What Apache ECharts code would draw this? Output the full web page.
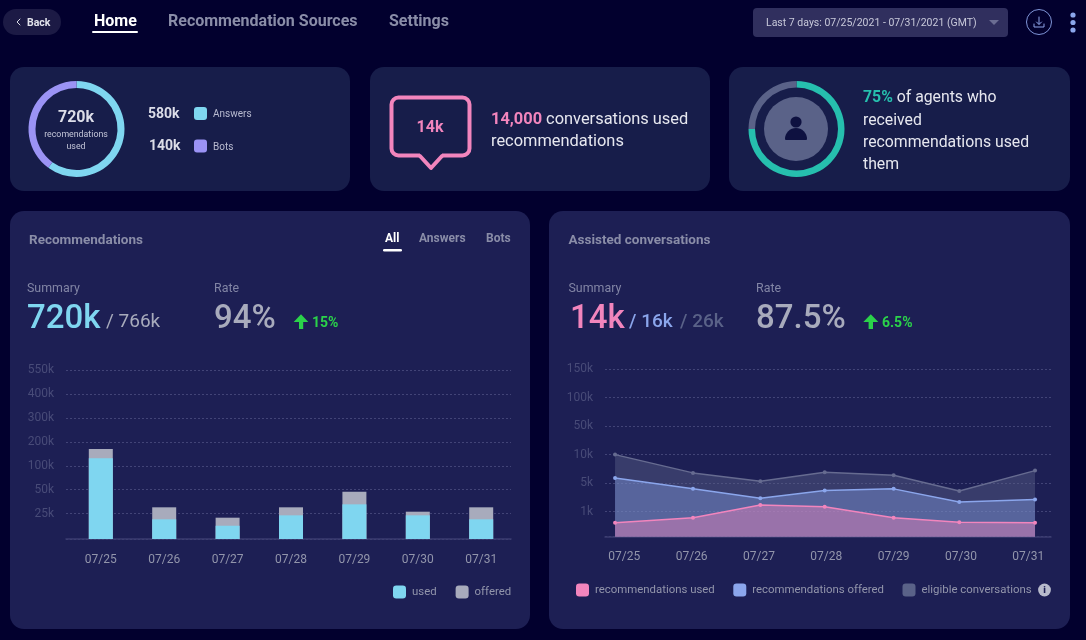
<!DOCTYPE html>
<html><head><meta charset="utf-8">
<style>html,body{margin:0;padding:0;background:#02002e}#c{width:1086px;height:640px}</style>
<script src="https://cdn.jsdelivr.net/npm/echarts@6/dist/echarts.min.js"></script>
</head><body><div id="c"></div>
<script>
// ---- data (values in thousands) ----
const barDays = ['07/25','07/26','07/27','07/28','07/29','07/30','07/31'];
const barUsed = [131, 19.3, 13, 23.2, 34.6, 23.2, 19.3];
const barOffered = [170, 31.5, 20.9, 31.5, 47.9, 26.9, 31.5];
const barTickValues = [0,25,50,100,200,300,400,550];
const barTickLabels = ['','25k','50k','100k','200k','300k','400k','550k'];

const areaDays = ['07/25','07/26','07/27','07/28','07/29','07/30','07/31'];
const areaSampleDay = [-0.138, 1.02, 2.02, 2.976, 4, 4.975, 6.1];
const recUsed = [0.56, 0.76, 1.94, 1.7, 0.76, 0.58, 0.56];
const recOffered = [5.9, 4.2, 2.9, 3.96, 4.2, 2.35, 2.7];
const eligible = [10, 6.8, 5.35, 6.9, 6.4, 3.9, 7.2];
const areaTickValues = [0,1,5,10,50,100,150];
const areaTickLabels = ['','1k','5k','10k','50k','100k','150k'];

const sourceShares = [{name:'Answers',value:60},{name:'Bots',value:40}];
const agentShares = [{name:'used',value:75},{name:'other',value:25}];

// ---- the two charts share a banded axis: first band has its own height ----
function bandPositions(n, firstGap){ const p=[0]; for(let i=1;i<n;i++) p.push(firstGap+i-1); return p; }
function banded(v, ticks, pos){
  for(let i=1;i<ticks.length;i++){
    if(v<=ticks[i]) return pos[i-1]+(v-ticks[i-1])/(ticks[i]-ticks[i-1])*(pos[i]-pos[i-1]);
  }
  return pos[pos.length-1];
}
const barPos = bandPositions(barTickValues.length, 1.068);
const areaPos = bandPositions(areaTickValues.length, 0.876);
const labelAt = (pos,labels)=>v=>{const i=pos.findIndex(p=>Math.abs(p-v)<1e-6);return i<0?'':labels[i];};

const FF='Roboto';
const C={bg:'#02002e',top:'#171d4a',big:'#1d1f54',sky:'#7fd6f0',vio:'#9b93f5',pink:'#f285bd',blue:'#8ba6ec',slate:'#5a6288',
  grey:'#a8abbc',teal:'#26bfae',green:'#2bd24a',nav:'#8a8da8',ink:'#e6e7ef'};

const T=(x,y,text,size,fill,o={})=>({type:'text',z:20,x,y:y+size*0.1,silent:true,style:Object.assign({text,fill,
  font:`${o.w||400} ${size}px ${FF}`,align:o.a||'left',verticalAlign:'middle'},o.rich?{rich:o.rich}:{})});
const R=(x,y,w,h,r,fill,o={})=>({type:'rect',z:o.z||5,silent:true,shape:{x,y,width:w,height:h,r},style:Object.assign({fill},o.style||{})});
const Cc=(cx,cy,r,style,z)=>({type:'circle',z:z||10,silent:true,shape:{cx,cy,r},style});
const Pl=(points,style)=>({type:'polyline',z:15,silent:true,shape:{points},style:Object.assign({fill:null,lineCap:'round',lineJoin:'round'},style)});
const Pg=(points,fill,z)=>({type:'polygon',z:z||15,silent:true,shape:{points},style:{fill}});

const elements=[
  // cards
  R(10,67,340,124,14,C.top,{z:-5}),R(370,67,340,124,14,C.top,{z:-5}),R(729,67,341,124,14,C.top,{z:-5}),
  R(10,211,520,418,14,C.big,{z:-5}),R(549,211,521,418,14,C.big,{z:-5}),
  // nav
  R(3,9,58,26,13,'#1c1a45'),
  Pl([[20,19],[17,22],[20,25]],{stroke:'#d8d9e4',lineWidth:1}),
  T(27,22,'Back',10.5,'#e2e3ec',{w:700}),
  T(94,20.5,'Home',16,'#ffffff',{w:700}),
  R(92,31,46,2,1,'#ffffff'),
  T(168,20.5,'Recommendation Sources',16,C.nav,{w:700}),
  T(389,20.5,'Settings',16,C.nav,{w:700}),
  R(753,8,255,29,4,'#302f5e'),
  T(766,22,'Last 7 days: 07/25/2021 - 07/31/2021 (GMT)',10.5,'#c8c9da'),
  Pg([[989,20],[999,20],[994,25]],'#6b6d92'),
  Cc(1039,22,12.5,{fill:null,stroke:'#7f95d8',lineWidth:1}),
  Pl([[1039,17],[1039,24]],{stroke:'#8ea4e8',lineWidth:1}),
  Pl([[1036.5,22],[1039,24.5],[1041.5,22]],{stroke:'#8ea4e8',lineWidth:1}),
  Pl([[1034,24],[1034,27],[1044,27],[1044,24]],{stroke:'#8ea4e8',lineWidth:1}),
  Cc(1073,15,2.6,{fill:C.blue}),Cc(1073,22.5,2.6,{fill:C.blue}),Cc(1073,30,2.6,{fill:C.blue}),
  // card 1
  T(76,116,'720k',16,'#dcdde8',{w:700,a:'center'}),
  T(76,134,'recomendations',8.8,'#c4c6d8',{a:'center'}),
  T(76,145.5,'used',8.8,'#c4c6d8',{a:'center'}),
  T(148,113,'580k',14,'#dcdde8',{w:700}),
  T(149,145,'140k',14,'#dcdde8',{w:700}),
  R(194,107,13,13,3,C.sky),R(194,139.5,13,13,3,C.vio),
  T(213,113.5,'Answers',10,'#b9bbd0'),
  T(213,146,'Bots',10,'#b9bbd0'),
  // card 2
  R(391.5,97.5,78,58,7,null,{style:{fill:null,stroke:C.pink,lineWidth:4}}),
  Pg([[420,150],[442,150],[442,158],[420,158]],C.top,14),
  Pl([[420,156],[431,168],[442,156]],{stroke:C.pink,lineWidth:4}),
  T(430,126,'14k',16,C.pink,{w:700,a:'center'}),
  T(491,118,'{a|14,000} conversations used',16.4,C.ink,{rich:{a:{fill:C.pink,font:`700 16.4px ${FF}`}}}),
  T(491,140.5,'recommendations',16.4,C.ink),
  // card 3
  Cc(796,129,32,{fill:C.slate}),
  Cc(796,122,5.6,{fill:'#0e1140'},12),
  R(785,128,22,12,[11,11,1,1],'#0e1140',{z:12}),
  T(863,96.5,'{a|75%} of agents who',15.8,C.ink,{rich:{a:{fill:C.teal,font:`700 15.8px ${FF}`}}}),
  T(863,119,'received',15.8,C.ink),
  T(863,141,'recommendations used',15.8,C.ink),
  T(863,163.5,'them',15.8,C.ink),
  // left panel text
  T(29,239,'Recommendations',13.5,C.nav,{w:700}),
  T(385,237.5,'All',12,'#ffffff',{w:700}),
  T(419,237.5,'Answers',12,C.nav,{w:700}),
  T(486,237.5,'Bots',12,C.nav,{w:700}),
  R(383,249,19,2.6,1.3,'#ffffff'),
  T(27,287.5,'Summary',12.4,'#8285a5'),
  T(214,287.5,'Rate',12.4,'#8285a5'),
  T(27,316,'720k',33,C.sky,{w:500}),
  T(106,320.5,'/ 766k',19,C.grey),
  T(214,316,'94%',33,C.grey,{w:500}),
  Pg([[293.7,322],[301,314.3],[308.3,322],[303.2,322],[303.2,329],[299,329],[299,322]],C.green),
  T(312,322.5,'15%',14,C.green,{w:700}),
  // right panel text
  T(568.5,239,'Assisted conversations',13.5,C.nav,{w:700}),
  T(568.5,287.5,'Summary',12.4,'#8285a5'),
  T(756,287.5,'Rate',12.4,'#8285a5'),
  T(570,316,'14k',33,C.pink,{w:500}),
  T(629,320.5,'/ 16k',19,C.blue,{w:500}),
  T(680,320.5,'/ 26k',19,C.slate,{w:500}),
  T(756,316,'87.5%',33,C.grey,{w:500}),
  Pg([[863.3,322],[870.8,314.3],[878.3,322],[873,322],[873,329],[868.6,329],[868.6,322]],C.green),
  T(882,322.5,'6.5%',14,C.green,{w:700}),
  Cc(1044.5,590,6.4,{fill:'#b8bbcc'}),
  T(1044.5,589.5,'i',9.5,'#1d1f54',{w:900,a:'center'})
];

const yAxisBase=(pos,labels)=>({type:'value',min:0,max:pos[pos.length-1],
  axisLine:{show:false},
  axisTick:{show:false,customValues:pos},
  axisLabel:{customValues:pos,formatter:labelAt(pos,labels),color:'#484b78',fontFamily:FF,fontSize:12,margin:12,padding:[4,0,0,0]},
  splitLine:{show:true,lineStyle:{color:'rgba(125,130,175,0.38)',type:[2,2],width:1}}});
const xAxisBase=(min,max,labels)=>({type:'value',min,max,
  axisLine:{show:true,lineStyle:{color:'#3b3d70',width:1.5}},
  axisTick:{show:false,customValues:[0,1,2,3,4,5,6]},
  axisLabel:{customValues:[0,1,2,3,4,5,6],formatter:v=>labels[v],color:'#9295ab',fontFamily:FF,fontSize:12,margin:14.5},
  splitLine:{show:false}});

const areaSeries=(name,vals,line,fill)=>({type:'line',name,xAxisIndex:1,yAxisIndex:1,silent:true,
  data:vals.map((v,i)=>[areaSampleDay[i],banded(v,areaTickValues,areaPos)]),
  symbol:'circle',symbolSize:4,showSymbol:true,
  lineStyle:{color:line,width:1.5},itemStyle:{color:line},areaStyle:{color:fill,opacity:1}});

const legendCommon={orient:'horizontal',icon:'roundRect',itemWidth:13,itemHeight:13,selectedMode:false,padding:0,
  textStyle:{color:'#9295ab',fontFamily:FF,fontSize:11.4,padding:[2,0,0,1]},lineStyle:{width:0},itemStyle:{borderWidth:0}};

const option={
  animation:false,backgroundColor:C.bg,
  graphic:{elements},
  grid:[
    {left:66,top:370.3,width:445,height:168.7,outerBoundsMode:'none'},
    {left:605,top:369,width:446,height:167.7,outerBoundsMode:'none'}
  ],
  xAxis:[
    Object.assign(xAxisBase(-0.549,6.47,barDays),{gridIndex:0}),
    Object.assign(xAxisBase(-0.287,6.337,areaDays),{gridIndex:1})
  ],
  yAxis:[
    Object.assign(yAxisBase(barPos,barTickLabels),{gridIndex:0}),
    Object.assign(yAxisBase(areaPos,areaTickLabels),{gridIndex:1})
  ],
  legend:[
    Object.assign({},legendCommon,{left:393,top:585.5,itemGap:19,data:[
      {name:'used',itemStyle:{color:C.sky}},{name:'offered',itemStyle:{color:'#a8abbc'}}]}),
    Object.assign({},legendCommon,{left:576,top:583.5,itemGap:18.5,data:[
      {name:'recommendations used',itemStyle:{color:C.pink}},
      {name:'recommendations offered',itemStyle:{color:C.blue}},
      {name:'eligible conversations',itemStyle:{color:C.slate}}]})
  ],
  series:[
    {type:'bar',name:'offered',xAxisIndex:0,yAxisIndex:0,silent:true,barWidth:24,barGap:'-100%',
      data:barOffered.map((v,i)=>[i,banded(v,barTickValues,barPos)]),itemStyle:{color:'#a8abbc'}},
    {type:'bar',name:'used',xAxisIndex:0,yAxisIndex:0,silent:true,barWidth:24,barGap:'-100%',
      data:barUsed.map((v,i)=>[i,banded(v,barTickValues,barPos)]),itemStyle:{color:C.sky}},
    areaSeries('eligible conversations',eligible,'#666b90','rgba(90,98,136,0.44)'),
    areaSeries('recommendations offered',recOffered,C.blue,'rgba(139,166,236,0.38)'),
    areaSeries('recommendations used',recUsed,C.pink,'rgba(242,133,189,0.43)'),
    {type:'pie',name:'sources',silent:true,center:[76.5,129],radius:[41,48],startAngle:90,label:{show:false},labelLine:{show:false},
      data:sourceShares,color:[C.sky,C.vio]},
    {type:'pie',name:'agents',silent:true,center:[796.5,129],radius:[41.5,48],startAngle:90,label:{show:false},labelLine:{show:false},
      data:agentShares,color:[C.teal,C.slate]}
  ]
};
echarts.init(document.getElementById('c'),null,{renderer:'canvas'}).setOption(option);
</script></body></html>
